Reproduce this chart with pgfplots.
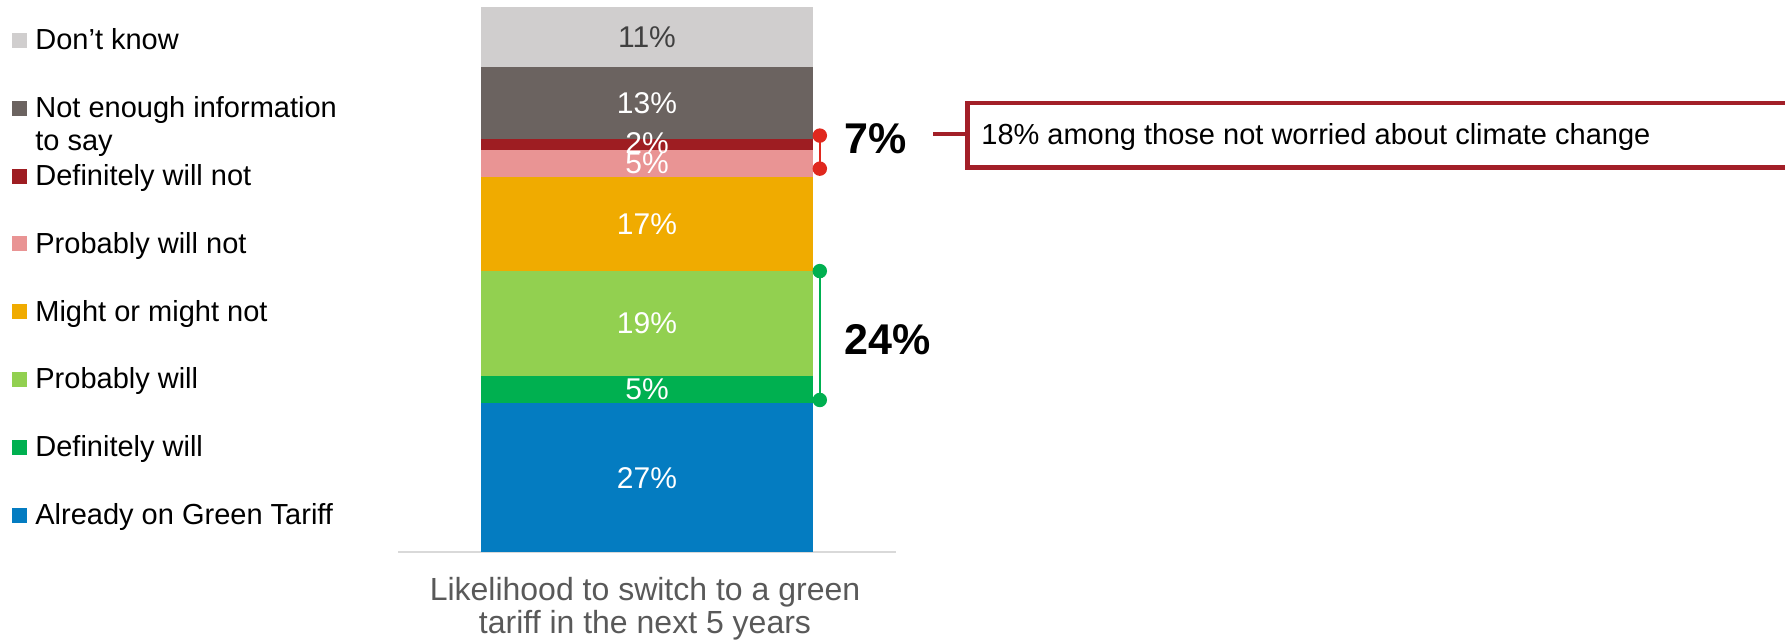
\documentclass[border=0pt]{standalone}
\usepackage{pgfplots}
\pgfplotsset{compat=1.18}
\usepackage{fontspec}
\setmainfont{Liberation Sans}
\definecolor{cDK}{HTML}{D0CECE}
\definecolor{cNE}{HTML}{6B6360}
\definecolor{cDWN}{HTML}{9E1D22}
\definecolor{cPWN}{HTML}{E99494}
\definecolor{cMM}{HTML}{F0AB00}
\definecolor{cPW}{HTML}{92D050}
\definecolor{cDW}{HTML}{00B050}
\definecolor{cAG}{HTML}{047CC1}
\definecolor{cRed}{HTML}{E0281E}
\definecolor{cBox}{HTML}{A21F28}
\definecolor{cAxis}{HTML}{D9D9D9}
\definecolor{cTitle}{HTML}{595959}
\definecolor{cDark}{HTML}{404040}
\pgfplotsset{geom/.style={at={(199pt,45pt)}, anchor=south west, scale only axis,
  width=249pt, height=272.65pt, xmin=0, xmax=1, ymin=0, ymax=99, clip=false}}
\begin{document}
\begin{tikzpicture}
\useasboundingbox (0,0) rectangle (892.5pt,321pt);
\begin{axis}[geom, ybar stacked, bar width=0.6647,
  axis x line=bottom, axis y line=none,
  x axis line style={-, draw=cAxis, line width=0.8pt},
  xtick=\empty, ytick=\empty]
  \addplot[fill=cAG, draw=none] coordinates {(0.5,27)};
  \addplot[fill=cDW, draw=none] coordinates {(0.5,5)};
  \addplot[fill=cPW, draw=none] coordinates {(0.5,19)};
  \addplot[fill=cMM, draw=none] coordinates {(0.5,17)};
  \addplot[fill=cPWN, draw=none] coordinates {(0.5,5)};
  \addplot[fill=cDWN, draw=none] coordinates {(0.5,2)};
  \addplot[fill=cNE, draw=none] coordinates {(0.5,13)};
  \addplot[fill=cDK, draw=none] coordinates {(0.5,11)};
\end{axis}
\begin{axis}[geom, hide axis]
  \addplot[cRed, line width=1pt, mark=*, mark size=3.1pt, mark options={fill=cRed, draw=cRed}] coordinates {(0.847,75.6) (0.847,69.6)};
  \addplot[cDW, line width=1pt, mark=*, mark size=3.1pt, mark options={fill=cDW, draw=cDW}] coordinates {(0.847,51) (0.847,27.6)};
  \begin{scope}[every node/.style={font=\fontsize{15}{18}\selectfont, text=white}]
  \node at (axis cs:0.5,13.5) {27\%};
  \node at (axis cs:0.5,29.5) {5\%};
  \node at (axis cs:0.5,41.5) {19\%};
  \node at (axis cs:0.5,59.5) {17\%};
  \node at (axis cs:0.5,70.5) {5\%};
  \node at (axis cs:0.5,74.3) {2\%};
  \node at (axis cs:0.5,81.5) {13\%};
  \node[text=cDark] at (axis cs:0.5,93.5) {11\%};
  \end{scope}
  \node[anchor=west, inner sep=0pt, font=\fontsize{21.5}{24}\selectfont\bfseries] at (axis cs:0.8956,75) {7\%};
  \node[anchor=west, inner sep=0pt, font=\fontsize{21.5}{24}\selectfont\bfseries] at (axis cs:0.8956,38.5) {24\%};
\end{axis}
\begin{scope}[x=0.5pt, y=-0.5pt, shift={(0,321pt)}]
  % legend
  \foreach \c/\t [count=\i from 0] in {cDK/Don’t know, cNE/Not enough information, cDWN/Definitely will not, cPWN/Probably will not, cMM/Might or might not, cPW/Probably will, cDW/Definitely will, cAG/Already on Green Tariff}{
    \pgfmathsetmacro{\yc}{40.5+67.8*\i}
    \fill[\c] (12,\yc-7.5) rectangle (27,\yc+7.5);
    \node[anchor=base west, inner sep=0pt, font=\fontsize{14.5}{17}\selectfont] at (35,\yc+9.5) {\t};
  }
  \node[anchor=base west, inner sep=0pt, font=\fontsize{14.5}{17}\selectfont] at (35,108.3+9.5+33) {to say};
  % callout
  \draw[cBox, line width=2.2pt] (933,134.3) -- (965,134.3);
  \draw[cBox, line width=2.2pt] (1787,103) -- (967.5,103) -- (967.5,167.5) -- (1787,167.5) -- cycle;
  \node[anchor=west, inner sep=0pt, font=\fontsize{14.5}{17}\selectfont] at (981,137) {18\% among those not worried about climate change};
  % axis title
  \node[anchor=base, inner sep=0pt, text=cTitle, font=\fontsize{16}{19}\selectfont] at (645,601) {Likelihood to switch to a green};
  \node[anchor=base, inner sep=0pt, text=cTitle, font=\fontsize{16}{19}\selectfont] at (645,634) {tariff in the next 5 years};
\end{scope}
\end{tikzpicture}
\end{document}
